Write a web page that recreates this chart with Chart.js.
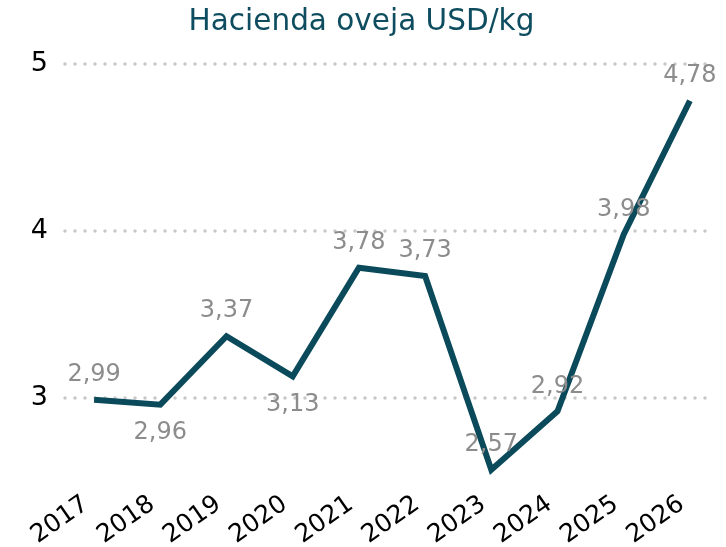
<!DOCTYPE html>
<html>
<head>
<meta charset="utf-8">
<script src="https://cdn.jsdelivr.net/npm/chart.js@4"></script>
<style>
  html, body { margin: 0; padding: 0; background: #fff; }
  #wrap { width: 726px; height: 547px; }
</style>
</head>
<body>
<div id="wrap"><canvas id="chartOveja" width="726" height="547"></canvas></div>
<script>
const years = ["2017", "2018", "2019", "2020", "2021", "2022", "2023", "2024", "2025", "2026"];
const precios = [2.99, 2.96, 3.37, 3.13, 3.78, 3.73, 2.57, 2.92, 3.98, 4.78];
const yTicks = [3, 4, 5];

// etiquetas abajo solo para 2018 y 2020
const labelBelow = [false, true, false, true, false, false, false, false, false, false];

const dotGrid = {
    id: 'dotGrid',
    beforeDatasetsDraw(chart) {
        const { ctx, chartArea, scales } = chart;
        ctx.save();
        ctx.strokeStyle = '#c8c8c8';
        ctx.lineWidth = 3.5;
        ctx.lineCap = 'round';
        ctx.setLineDash([0, 10]);
        yTicks.forEach(v => {
            const y = scales.y.getPixelForValue(v);
            ctx.beginPath();
            ctx.moveTo(chartArea.left + 4, y);
            ctx.lineTo(chartArea.right - 8, y);
            ctx.stroke();
        });
        ctx.restore();
    }
};

const valueLabels = {
    id: 'valueLabels',
    afterDatasetsDraw(chart) {
        const { ctx } = chart;
        const meta = chart.getDatasetMeta(0);
        ctx.save();
        ctx.font = '24px "DejaVu Sans"';
        ctx.fillStyle = '#8c8c8c';
        ctx.textAlign = 'center';
        ctx.textBaseline = 'middle';
        meta.data.forEach((pt, i) => {
            const txt = precios[i].toFixed(2).replace('.', ',');
            const dy = labelBelow[i] ? 28 : -25;
            ctx.fillText(txt, pt.x, pt.y + dy);
        });
        ctx.restore();
    }
};

const ctx = document.getElementById("chartOveja").getContext("2d");
new Chart(ctx, {
    type: 'line',
    data: {
        labels: years,
        datasets: [{
            label: 'Hacienda oveja',
            data: precios,
            borderColor: '#0b4a5b',
            borderWidth: 6,
            pointRadius: 0,
            tension: 0,
            fill: false,
            borderJoinStyle: 'miter'
        }]
    },
    options: {
        responsive: false,
        animation: false,
        layout: { padding: { left: 0, right: 3, top: 0, bottom: 0 } },
        plugins: {
            legend: { display: false },
            tooltip: { enabled: false },
            title: {
                display: true,
                text: 'Hacienda oveja USD/kg',
                color: '#0e4d5f',
                font: { family: 'DejaVu Sans', size: 29.5, weight: 'normal', lineHeight: 1.2 },
                padding: { top: 5, bottom: 23.6 }
            }
        },
        scales: {
            x: {
                offset: true,
                grid: { display: false },
                border: { display: false },
                ticks: {
                    color: '#000',
                    font: { family: 'DejaVu Sans', size: 25 },
                    minRotation: 35,
                    maxRotation: 35,
                    labelOffset: -8,
                    padding: 0
                },
                afterFit(scale) { scale.height = 65.5; }
            },
            y: {
                min: 2.5,
                max: 5,
                grid: { display: false },
                border: { display: false },
                ticks: {
                    color: '#000',
                    font: { family: 'DejaVu Sans', size: 27 },
                    stepSize: 1,
                    padding: 5
                },
                afterBuildTicks(scale) {
                    scale.ticks = yTicks.map(v => ({ value: v }));
                },
                afterFit(scale) { scale.width = 61; }
            }
        }
    },
    plugins: [dotGrid, valueLabels]
});
</script>
</body>
</html>
